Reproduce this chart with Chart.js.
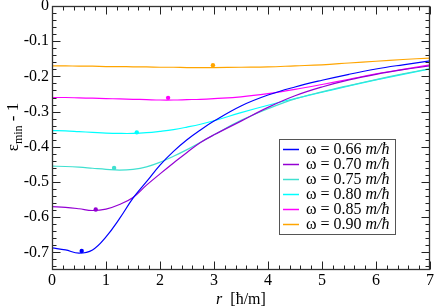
<!DOCTYPE html>
<html><head><meta charset="utf-8">
<script src="https://cdn.jsdelivr.net/npm/chart.js@4/dist/chart.umd.min.js"></script>
<style>html,body{margin:0;padding:0;background:#fff}#wrap{width:436px;height:306px}</style>
</head><body><div id="wrap"><canvas id="c" width="436" height="306"></canvas></div>
<script>
const rValues = [0,0.25,0.5,0.75,1,1.25,1.5,1.75,2,2.25,2.5,2.75,3,3.5,4,4.5,5,5.5,6,6.5,7];
const omegaLabels = ['0.66','0.70','0.75','0.80','0.85','0.90'];
const seriesColors = ['#0000ff','#9400d3','#40e0d0','#00ffff','#ff00ff','#ffa500'];
const eps066 = [-0.687,-0.693,-0.702,-0.693,-0.656,-0.604,-0.546,-0.499,-0.452,-0.413,-0.380,-0.352,-0.327,-0.284,-0.253,-0.230,-0.211,-0.194,-0.179,-0.167,-0.156];
const eps070 = [-0.570,-0.572,-0.576,-0.581,-0.577,-0.564,-0.544,-0.509,-0.477,-0.446,-0.416,-0.388,-0.366,-0.327,-0.288,-0.255,-0.230,-0.210,-0.194,-0.181,-0.170];
const eps075 = [-0.455,-0.456,-0.458,-0.461,-0.464,-0.466,-0.464,-0.457,-0.444,-0.427,-0.408,-0.387,-0.366,-0.325,-0.292,-0.264,-0.244,-0.226,-0.209,-0.193,-0.178];
const eps080 = [-0.354,-0.355,-0.357,-0.359,-0.361,-0.362,-0.362,-0.360,-0.356,-0.351,-0.344,-0.336,-0.326,-0.303,-0.282,-0.263,-0.245,-0.227,-0.210,-0.194,-0.179];
const eps085 = [-0.260,-0.260,-0.261,-0.262,-0.263,-0.264,-0.265,-0.266,-0.267,-0.267,-0.266,-0.265,-0.263,-0.258,-0.249,-0.237,-0.223,-0.208,-0.193,-0.180,-0.167];
const eps090 = [-0.170,-0.170,-0.171,-0.171,-0.172,-0.172,-0.173,-0.173,-0.174,-0.174,-0.175,-0.175,-0.175,-0.174,-0.173,-0.170,-0.167,-0.162,-0.157,-0.152,-0.148];
const minPointR = [0.55,0.81,1.15,1.57,2.15,2.98];
const minPointEps = [-0.696,-0.578,-0.460,-0.359,-0.261,-0.168];
const xTicks = [0,1,2,3,4,5,6,7];
const yTicks = [0,-0.1,-0.2,-0.3,-0.4,-0.5,-0.6,-0.7];

const allSeries = [eps066,eps070,eps075,eps080,eps085,eps090];
const datasets = [];
allSeries.forEach((s,i)=>{
  datasets.push({type:'line',label:'ω = '+omegaLabels[i],data:rValues.map((r,j)=>({x:r,y:s[j]})),
    borderColor:seriesColors[i],backgroundColor:seriesColors[i],borderWidth:1.2,pointRadius:0,
    tension:0.4,fill:false});
});
minPointR.forEach((r,i)=>{
  datasets.push({type:'scatter',label:'min'+i,data:[{x:r,y:minPointEps[i]}],
    backgroundColor:seriesColors[i],borderColor:seriesColors[i],pointRadius:2.2,borderWidth:0});
});

const SERIF = '"Liberation Serif","DejaVu Serif",serif';

const decor = {
  id:'decor',
  afterDatasetsDraw(chart){
    const ctx = chart.ctx, a = chart.chartArea, xs = chart.scales.x, ys = chart.scales.y;
    ctx.save();
    ctx.strokeStyle = '#222'; ctx.lineWidth = 1;
    const L=Math.round(a.left)+0.5, R=Math.round(a.right)-0.5, T=Math.round(a.top)+0.5, B=Math.round(a.bottom)-0.5;
    ctx.beginPath();
    for(let k=0;k<=35;k++){
      const v=k*0.2; const px=Math.round(xs.getPixelForValue(v))+0.5;
      const len = (k%5===0)?8:4;
      ctx.moveTo(px,B); ctx.lineTo(px,B-len);
      ctx.moveTo(px,T); ctx.lineTo(px,T+len);
    }
    for(let k=0;k<=37;k++){
      const v=-k*0.02; const py=Math.round(ys.getPixelForValue(v))+0.5;
      const len = (k%5===0)?8:4;
      ctx.moveTo(L,py); ctx.lineTo(L+len,py);
      ctx.moveTo(R,py); ctx.lineTo(R-len,py);
    }
    ctx.stroke();
    ctx.lineWidth=1.3; ctx.strokeStyle='#333';
    ctx.strokeRect(L,T,R-L,B-T);
    // legend
    const bx=279.5, by=139.5, bw=116, bh=95;
    ctx.fillStyle='#fff'; ctx.fillRect(bx,by,bw,bh);
    ctx.lineWidth=1; ctx.strokeStyle='#555'; ctx.strokeRect(bx,by,bw,bh);
    ctx.textBaseline='middle'; ctx.textAlign='left';
    omegaLabels.forEach((lab,i)=>{
      const y=149+i*15;
      ctx.strokeStyle=seriesColors[i]; ctx.lineWidth=1.5;
      ctx.beginPath(); ctx.moveTo(283,y+0.5); ctx.lineTo(299,y+0.5); ctx.stroke();
      ctx.fillStyle='#000';
      ctx.font='16px '+SERIF;
      const t1='ω = '+lab+' ';
      ctx.fillText(t1,306,y+1);
      const w1=ctx.measureText(t1).width;
      ctx.font='italic 16px '+SERIF;
      ctx.fillText('m/ħ',306+w1,y+1);
    });
    // x title
    ctx.fillStyle='#000';
    const tr='r', tb='  [ħ/m]';
    ctx.font='16px '+SERIF; const wb=ctx.measureText(tb).width;
    ctx.font='italic 16px '+SERIF; const wr=ctx.measureText(tr).width;
    const cx=241, sx=cx-(wr+wb)/2;
    ctx.textBaseline='alphabetic';
    ctx.fillText(tr,sx,304);
    ctx.font='16px '+SERIF; ctx.fillText(tb,sx+wr,304);
    // y title rotated
    ctx.translate(18,127); ctx.rotate(-Math.PI/2);
    ctx.font='17px '+SERIF; const we=ctx.measureText('ε').width;
    ctx.font='12px '+SERIF; const wm=ctx.measureText('min').width;
    ctx.font='17px '+SERIF; const w1b=ctx.measureText(' - 1').width;
    let x0=-(we+wm+w1b)/2;
    ctx.font='17px '+SERIF; ctx.fillText('ε',x0,0); x0+=we;
    ctx.font='12px '+SERIF; ctx.fillText('min',x0,4); x0+=wm;
    ctx.font='17px '+SERIF; ctx.fillText(' - 1',x0,0);
    ctx.restore();
  }
};

function zeroPad(s){s.paddingTop=0;s.paddingBottom=0;s.paddingLeft=0;s.paddingRight=0;}

new Chart(document.getElementById('c'),{
  type:'line',
  data:{datasets},
  options:{
    responsive:false,animation:false,
    layout:{padding:{left:0,right:6,top:6,bottom:0}},
    plugins:{legend:{display:false},tooltip:{enabled:false}},
    scales:{
      x:{type:'linear',min:0,max:7,
        afterBuildTicks:s=>{s.ticks=xTicks.map(v=>({value:v}));},
        afterFit:s=>{s.height=36;zeroPad(s);},
        grid:{display:false,drawTicks:false},border:{display:false},
        ticks:{padding:1,color:'#000',font:{family:SERIF,size:16},callback:v=>String(v),maxRotation:0,autoSkip:false}},
      y:{type:'linear',min:-0.75,max:0,
        afterBuildTicks:s=>{s.ticks=yTicks.map(v=>({value:v}));},
        afterFit:s=>{s.width=52;zeroPad(s);},
        grid:{display:false,drawTicks:false},border:{display:false},
        ticks:{padding:3,color:'#000',font:{family:SERIF,size:16},callback:v=>(Math.abs(v)<1e-9?'0':v.toFixed(1)),autoSkip:false}}
    }
  },
  plugins:[decor]
});
</script></body></html>
